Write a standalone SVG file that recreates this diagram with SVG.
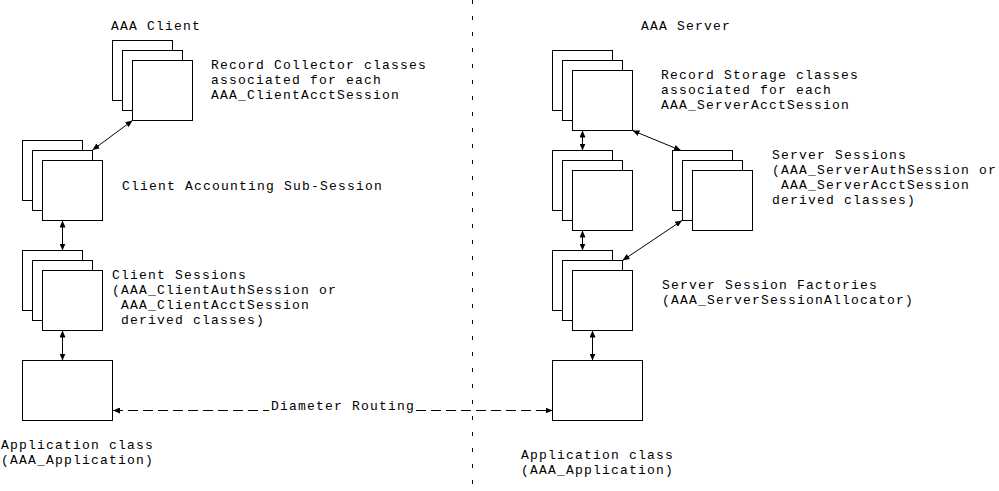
<svg xmlns="http://www.w3.org/2000/svg" width="999" height="491" viewBox="0 0 999 491">
<style>
text{font-family:"Liberation Mono","Courier New",monospace;font-size:13px;letter-spacing:1.2px;fill:#000}
.b{fill:#fff;stroke:#000;stroke-width:1}
.c{fill:none;stroke:#000;stroke-width:1}
.d{stroke-dasharray:10,5}
.div{fill:none;stroke:#000;stroke-width:1;stroke-dasharray:4,12}
</style>
<defs>
<marker id="ah" markerUnits="userSpaceOnUse" markerWidth="7" markerHeight="6" refX="7" refY="3" orient="auto-start-reverse">
<path d="M0,0 L7,3 L0,6 z" fill="#000"/>
</marker>
<g id="stack">
<rect class="b" x="0" y="0" width="60" height="60"/>
<rect class="b" x="10" y="10" width="60" height="60"/>
<rect class="b" x="20" y="20" width="60" height="60"/>
</g>
</defs>
<rect width="999" height="491" fill="#fff"/>
<line class="div" x1="472.5" y1="0" x2="472.5" y2="491"/>
<g id="client-title"><text x="111" y="30">AAA Client</text></g>
<g id="server-title"><text x="641" y="30">AAA Server</text></g>
<g id="record-collector">
<use href="#stack" x="112.5" y="40.5"/>
<text x="211" y="69">Record Collector classes</text>
<text x="211" y="84">associated for each</text>
<text x="211" y="99">AAA_ClientAcctSession</text>
</g>
<g id="client-acct-subsession">
<use href="#stack" x="22.5" y="140.5"/>
<text x="122" y="190">Client Accounting Sub-Session</text>
</g>
<g id="client-sessions">
<use href="#stack" x="22.5" y="250.5"/>
<text x="112" y="279">Client Sessions</text>
<text x="112" y="294">(AAA_ClientAuthSession or</text>
<text x="112" y="309" xml:space="preserve"> AAA_ClientAcctSession</text>
<text x="112" y="324" xml:space="preserve"> derived classes)</text>
</g>
<g id="client-app">
<rect class="b" x="22.5" y="360.5" width="90" height="60"/>
<text x="1" y="449">Application class</text>
<text x="1" y="464">(AAA_Application)</text>
</g>
<g id="record-storage">
<use href="#stack" x="552.5" y="50.5"/>
<text x="661" y="79">Record Storage classes</text>
<text x="661" y="94">associated for each</text>
<text x="661" y="109">AAA_ServerAcctSession</text>
</g>
<g id="server-acct-subsession">
<use href="#stack" x="552.5" y="150.5"/>
</g>
<g id="server-sessions">
<use href="#stack" x="672.5" y="150.5"/>
<text x="772" y="159">Server Sessions</text>
<text x="772" y="174">(AAA_ServerAuthSession or</text>
<text x="772" y="189" xml:space="preserve"> AAA_ServerAcctSession</text>
<text x="772" y="204">derived classes)</text>
</g>
<g id="server-factories">
<use href="#stack" x="552.5" y="250.5"/>
<text x="662" y="289">Server Session Factories</text>
<text x="662" y="304">(AAA_ServerSessionAllocator)</text>
</g>
<g id="server-app">
<rect class="b" x="552.5" y="360.5" width="90" height="60"/>
<text x="521" y="459">Application class</text>
<text x="521" y="474">(AAA_Application)</text>
</g>
<g id="connectors">
<line class="c" x1="92.5" y1="150" x2="132.5" y2="120.5" marker-start="url(#ah)" marker-end="url(#ah)"/>
<line class="c" x1="62.5" y1="220.5" x2="62.5" y2="250.5" marker-start="url(#ah)" marker-end="url(#ah)"/>
<line class="c" x1="62.5" y1="330.5" x2="62.5" y2="360.5" marker-start="url(#ah)" marker-end="url(#ah)"/>
<line class="c" x1="582.5" y1="130.5" x2="582.5" y2="150.5" marker-start="url(#ah)" marker-end="url(#ah)"/>
<line class="c" x1="582.5" y1="230.5" x2="582.5" y2="250.5" marker-start="url(#ah)" marker-end="url(#ah)"/>
<line class="c" x1="592.5" y1="330.5" x2="592.5" y2="360.5" marker-start="url(#ah)" marker-end="url(#ah)"/>
<line class="c" x1="632.5" y1="130.5" x2="681" y2="150.5" marker-start="url(#ah)" marker-end="url(#ah)"/>
<line class="c" x1="682" y1="220.5" x2="622.5" y2="260.5" marker-start="url(#ah)" marker-end="url(#ah)"/>
<line class="c d" x1="113" y1="410.5" x2="269" y2="410.5" marker-start="url(#ah)"/>
<line class="c d" x1="416" y1="410.5" x2="552.5" y2="410.5" marker-end="url(#ah)"/>
<text x="271" y="410">Diameter Routing</text>
</g>
</svg>
